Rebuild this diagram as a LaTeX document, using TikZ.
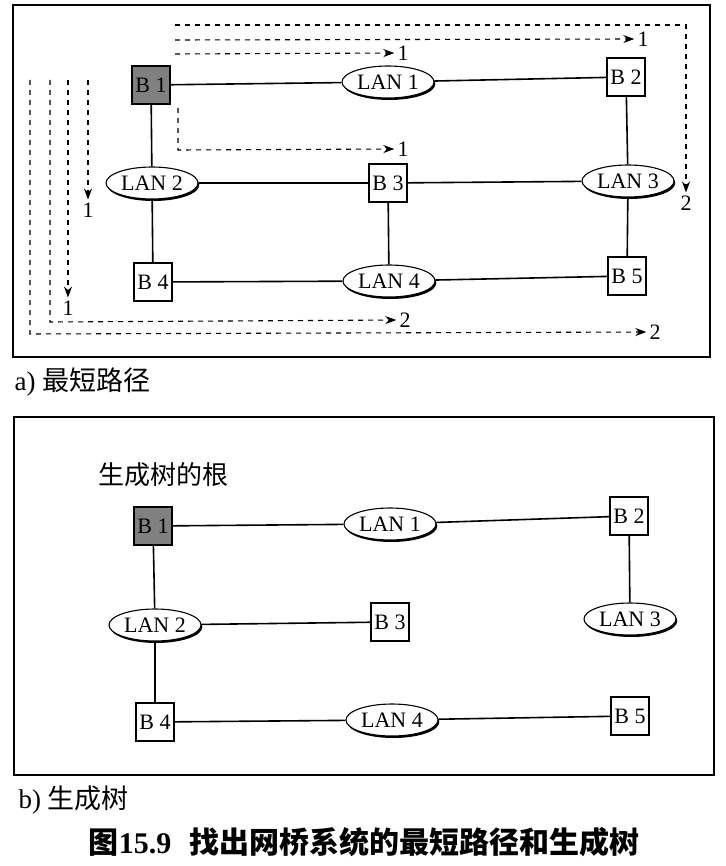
\documentclass[tikz,border=0pt]{standalone}
\usepackage{fontspec}
\setmainfont{Liberation Serif}
\newfontfamily\cjk{Noto Sans CJK SC}
\usetikzlibrary{shapes.geometric,shadows,arrows.meta}

\begin{document}
\begin{tikzpicture}[x=1pt,y=-1pt,
  bridge/.style={draw,line width=1.2pt,fill=white,minimum width=38pt,minimum height=38pt,inner sep=0pt,font=\fontsize{22}{22}\selectfont},
  root/.style={bridge,fill=black!50},
  lan/.style={ellipse,draw,line width=1.1pt,fill=white,minimum width=92pt,minimum height=32pt,inner sep=0pt,font=\fontsize{22}{22}\selectfont,
    drop shadow={shadow xshift=1.3pt,shadow yshift=-2pt,opacity=1,fill=black}},
  link/.style={line width=1.6pt},
  route/.style={line width=1.1pt,dash pattern=on 5pt off 5pt,shorten >=2pt,-{Stealth[length=11pt,width=8pt]}},
  num/.style={inner sep=1pt,font=\fontsize{22}{22}\selectfont}]
  \useasboundingbox (0,0) rectangle (725,866);

  % a) shortest paths
  \draw[line width=1.5pt] (13,5) rectangle (710,357);
  \node[root] (a1) at (151,85) {B 1};
  \node[lan] (al1) at (388,82) {LAN 1};
  \node[bridge] (a2) at (626,77) {B 2};
  \node[lan] (al2) at (152,183) {LAN 2};
  \node[bridge] (a3) at (388,183) {B 3};
  \node[lan] (al3) at (628,181) {LAN 3};
  \node[bridge] (a4) at (153,282) {B 4};
  \node[lan] (al4) at (389,281) {LAN 4};
  \node[bridge] (a5) at (627,276) {B 5};

  \draw[link] (a1) -- (al1);
  \draw[link] (al1) -- (a2);
  \draw[link] (a1) -- (al2);
  \draw[link] (a2) -- (al3);
  \draw[link] (al2) -- (a3);
  \draw[link] (a3) -- (al3);
  \draw[link] (al2) -- (a4);
  \draw[link] (a3) -- (al4);
  \draw[link] (al3) -- (a5);
  \draw[link] (a4) -- (al4);
  \draw[link] (al4) -- (a5);

  % dashed routes with their hop counts
  \node[num] (r1) at (686,203) {2};
  \draw[route] (175,25) -- (686,25) -- (r1.north);
  \node[num] (r2) at (643,39) {1};
  \draw[route] (175,40) -- (r2.west);
  \node[num] (r3) at (403,53) {1};
  \draw[route] (175,54) -- (r3.west);
  \node[num] (r4) at (403,149) {1};
  \draw[route] (178,108) -- (178,150) -- (r4.west);
  \node[num] (r5) at (88,210) {1};
  \draw[route] (88,80) -- (r5.north);
  \node[num] (r6) at (68,308) {1};
  \draw[route] (68,80) -- (r6.north);
  \node[num] (r7) at (405,320) {2};
  \draw[route] (50,80) -- (50,322) -- (r7.west);
  \node[num] (r8) at (655,332) {2};
  \draw[route] (30,80) -- (30,334) -- (r8.west);

  \node[anchor=west,font=\fontsize{27}{27}\selectfont] (capa) at (11,382) {a) {\cjk 最短路径}};

  % b) spanning tree
  \draw[line width=1.5pt] (14,417) rectangle (714,775);
  \node[font=\cjk\fontsize{26}{26}\selectfont] (rootlabel) at (163,475) {生成树的根};
  \node[root] (b1) at (153,526) {B 1};
  \node[lan] (bl1) at (390,524) {LAN 1};
  \node[bridge] (b2) at (629,516) {B 2};
  \node[lan] (bl2) at (155,625) {LAN 2};
  \node[bridge] (b3) at (390,622) {B 3};
  \node[lan] (bl3) at (630,619) {LAN 3};
  \node[bridge] (b4) at (155,722) {B 4};
  \node[lan] (bl4) at (392,720) {LAN 4};
  \node[bridge] (b5) at (630,716) {B 5};

  \draw[link] (b1) -- (bl1);
  \draw[link] (bl1) -- (b2);
  \draw[link] (b2) -- (bl3);
  \draw[link] (b1) -- (bl2);
  \draw[link] (bl2) -- (b3);
  \draw[link] (bl2) -- (b4);
  \draw[link] (b4) -- (bl4);
  \draw[link] (bl4) -- (b5);

  \node[anchor=west,font=\fontsize{27}{27}\selectfont] (capb) at (15,800) {b) {\cjk 生成树}};

  \node[font=\fontsize{30}{30}\selectfont] (title) at (364,842)
    {{\cjk\bfseries 图}\textbf{15.9}\hspace{18pt}{\cjk\bfseries 找出网桥系统的最短路径和生成树}};
\end{tikzpicture}
\end{document}
